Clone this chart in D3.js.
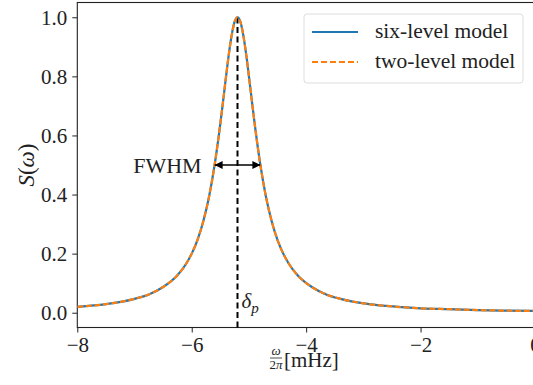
<!DOCTYPE html>
<html>
<head>
<meta charset="utf-8">
<script src="https://cdn.jsdelivr.net/npm/d3@7"></script>
<style>
  body { margin: 0; background: #fff; }
  svg text { font-family: "Liberation Serif", "Times New Roman", "DejaVu Serif", serif; }
</style>
</head>
<body>
<div id="chart"></div>
<script>
/* spectrum: frequency (mHz) and normalised S(omega) */
const freq = [-8, -7.5, -7, -6.75, -6.5, -6.25, -6.1, -6.0, -5.9, -5.8, -5.7, -5.6, -5.5, -5.45, -5.4, -5.35, -5.3, -5.25, -5.2,
              -5.15, -5.1, -5.05, -5.0, -4.95, -4.9, -4.8, -4.7, -4.6, -4.5, -4.4, -4.3, -4.15, -3.9, -3.65, -3.4, -2.9, -2.4, -2, -1.5, -1, -0.5, 0];
const sixLevel = [0.020, 0.029, 0.047, 0.062, 0.087, 0.127, 0.165, 0.200, 0.246, 0.308, 0.390, 0.500, 0.640, 0.719, 0.800, 0.877, 0.941, 0.985, 1.000,
                  0.985, 0.941, 0.877, 0.800, 0.719, 0.640, 0.500, 0.390, 0.308, 0.246, 0.200, 0.165, 0.127, 0.087, 0.062, 0.047, 0.029, 0.020, 0.015, 0.012, 0.009, 0.007, 0.006];
const twoLevel = [0.020, 0.029, 0.047, 0.062, 0.087, 0.127, 0.165, 0.200, 0.246, 0.308, 0.390, 0.500, 0.640, 0.719, 0.800, 0.877, 0.941, 0.985, 1.000,
                  0.985, 0.941, 0.877, 0.800, 0.719, 0.640, 0.500, 0.390, 0.308, 0.246, 0.200, 0.165, 0.127, 0.087, 0.062, 0.047, 0.029, 0.020, 0.015, 0.012, 0.009, 0.007, 0.006];
const seriesNames = ["six-level model", "two-level model"];
const xTicks = [-8, -6, -4, -2, 0];
const yTicks = [0, 0.2, 0.4, 0.6, 0.8, 1.0];
/* annotation values */
const peakFreq = -5.2;
const fwhmLeft = -5.6;
const fwhmRight = -4.8;

const width = 533;
const height = 385;
const blue = "#1f77b4";
const orange = "#ff7f0e";
const ink = "#222";

const svg = d3.select("#chart")
  .append("svg")
  .attr("width", width)
  .attr("height", height);

/* scales: axis box goes from x=77 to 535 (right side is cropped off) */
const xScale = d3.scaleLinear().domain([-8, 0]).range([77.3, 535]);
const yScale = d3.scaleLinear().domain([-0.05, 1.05]).range([327.5, 2.5]);

const defs = svg.append("defs");
defs.append("clipPath").attr("id", "plotClip")
  .append("rect")
  .attr("x", xScale(-8)).attr("y", yScale(1.05))
  .attr("width", xScale(0) - xScale(-8)).attr("height", yScale(-0.05) - yScale(1.05));

/* axes */
const xAxis = d3.axisBottom(xScale).tickValues(xTicks).tickSize(5).tickPadding(5)
  .tickFormat(d => d < 0 ? "\u2212" + Math.abs(d) : d);
const yAxis = d3.axisLeft(yScale).tickValues(yTicks).tickSize(5).tickPadding(5)
  .tickFormat(d3.format(".1f"));

const gx = svg.append("g")
  .attr("transform", "translate(0," + yScale(-0.05) + ")")
  .call(xAxis);
const gy = svg.append("g")
  .attr("transform", "translate(" + xScale(-8) + ",0)")
  .call(yAxis);

[gx, gy].forEach(g => {
  g.attr("font-family", null).attr("font-size", null);
  g.select(".domain").remove();
  g.selectAll("line").attr("stroke", ink).attr("stroke-width", 1);
  g.selectAll("text").attr("fill", ink).style("font-size", "21px");
});

/* frame */
svg.append("rect")
  .attr("x", xScale(-8)).attr("y", yScale(1.05))
  .attr("width", xScale(0) - xScale(-8)).attr("height", yScale(-0.05) - yScale(1.05))
  .attr("fill", "none").attr("stroke", ink).attr("stroke-width", 1.1);

/* dashed marker at the peak */
svg.append("line")
  .attr("x1", xScale(peakFreq)).attr("x2", xScale(peakFreq))
  .attr("y1", yScale(-0.05)).attr("y2", yScale(1.0))
  .attr("stroke", "#000").attr("stroke-width", 2).attr("stroke-dasharray", "6,3.5");

/* curves */
const line = d3.line()
  .x(d => xScale(d[0]))
  .y(d => yScale(d[1]))
  .curve(d3.curveMonotoneX);

const plot = svg.append("g").attr("clip-path", "url(#plotClip)");
plot.append("path")
  .datum(freq.map((f, i) => [f, sixLevel[i]]))
  .attr("d", line)
  .attr("fill", "none").attr("stroke", blue).attr("stroke-width", 2.2);
plot.append("path")
  .datum(freq.map((f, i) => [f, twoLevel[i]]))
  .attr("d", line)
  .attr("fill", "none").attr("stroke", orange).attr("stroke-width", 2.2).attr("stroke-dasharray", "6,2.6");

/* FWHM arrow */
defs.append("marker").attr("id", "arrowEnd")
  .attr("viewBox", "0 0 10 10").attr("refX", 10).attr("refY", 5)
  .attr("markerWidth", 5).attr("markerHeight", 5).attr("markerUnits", "strokeWidth")
  .attr("orient", "auto-start-reverse")
  .append("path").attr("d", "M0,0 L10,5 L0,10 z").attr("fill", "#000");

svg.append("line")
  .attr("x1", xScale(fwhmLeft)).attr("x2", xScale(fwhmRight))
  .attr("y1", yScale(0.5)).attr("y2", yScale(0.5))
  .attr("stroke", "#000").attr("stroke-width", 1.6)
  .attr("marker-start", "url(#arrowEnd)").attr("marker-end", "url(#arrowEnd)");

svg.append("text")
  .attr("x", xScale(fwhmLeft) - 13).attr("y", yScale(0.5) + 8)
  .attr("text-anchor", "end")
  .style("font-size", "22px").attr("fill", ink)
  .text("FWHM");

/* delta_p label */
const dp = svg.append("text")
  .attr("x", xScale(peakFreq) + 4).attr("y", yScale(0.015))
  .style("font-size", "21px").attr("fill", ink);
dp.append("tspan").style("font-style", "italic").text("\u03b4");
dp.append("tspan").style("font-style", "italic").style("font-size", "15px").attr("dy", 5).text("p");

/* axis labels */
const xl = svg.append("g").attr("transform", "translate(276,0)").attr("fill", ink);
xl.append("text").attr("x", 0).attr("y", 355).attr("text-anchor", "middle")
  .style("font-size", "13px").style("font-style", "italic").text("\u03c9");
xl.append("line").attr("x1", -6).attr("x2", 6).attr("y1", 358).attr("y2", 358)
  .attr("stroke", ink).attr("stroke-width", 0.8);
const den = xl.append("text").attr("x", 0).attr("y", 369).attr("text-anchor", "middle")
  .style("font-size", "13px");
den.append("tspan").text("2");
den.append("tspan").style("font-style", "italic").text("\u03c0");
xl.append("text").attr("x", 8).attr("y", 367)
  .style("font-size", "21px").text("[mHz]");

const yl = svg.append("text")
  .attr("transform", "translate(34," + yScale(0.5) + ") rotate(-90)")
  .attr("text-anchor", "middle")
  .style("font-size", "23px").attr("fill", ink);
yl.append("tspan").style("font-style", "italic").text("S");
yl.append("tspan").text("(");
yl.append("tspan").style("font-style", "italic").text("\u03c9");
yl.append("tspan").text(")");

/* legend */
const legend = svg.append("g").attr("id", "legend");
legend.append("rect")
  .attr("x", 304).attr("y", 14).attr("width", 219).attr("height", 69).attr("rx", 3)
  .attr("fill", "#fff").attr("fill-opacity", 0.8).attr("stroke", "#ddd").attr("stroke-width", 1);
const legendStyles = [
  { color: blue, dash: null },
  { color: orange, dash: "6,3" }
];
seriesNames.forEach((name, i) => {
  const y = 32 + i * 30;
  legend.append("line")
    .attr("x1", 312).attr("x2", 358).attr("y1", y).attr("y2", y)
    .attr("stroke", legendStyles[i].color).attr("stroke-width", 2.2)
    .attr("stroke-dasharray", legendStyles[i].dash);
  legend.append("text")
    .attr("x", 375).attr("y", y + 6)
    .style("font-size", "21.5px").attr("fill", ink)
    .text(name);
});
</script>
</body>
</html>
